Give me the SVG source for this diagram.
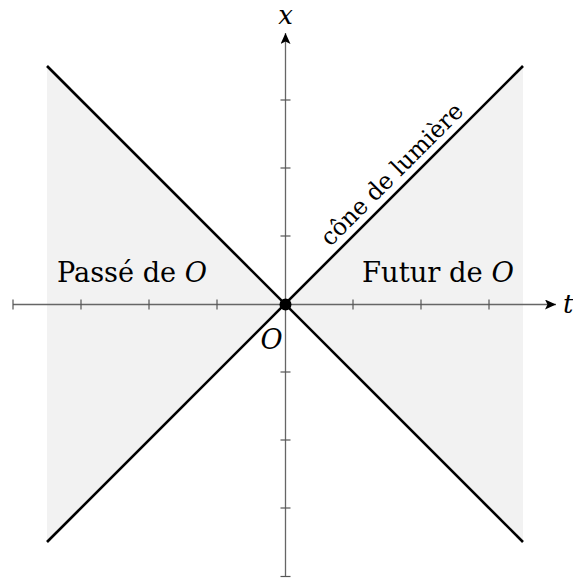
<svg xmlns="http://www.w3.org/2000/svg" width="573" height="578" viewBox="0 0 573 578">
<style>
.axis{stroke:#666;stroke-width:1.3;fill:none}
.tick{stroke:#555;stroke-width:1.2}
.cone{stroke:#000;stroke-width:2.6;fill:none}
.shade{fill:#f2f2f2;stroke:none}
.txt{font-family:"DejaVu Serif","Liberation Serif",serif;fill:#000}
.it{font-style:italic}
</style>
<defs>
<marker id="arr" markerWidth="12" markerHeight="10" refX="11" refY="5" orient="auto" markerUnits="userSpaceOnUse">
<path d="M0,0 L11,5 L0,10 L2.5,5 Z" fill="#000"/>
</marker>
</defs>
<g id="regions">
<polygon class="shade" points="47,66 285,304 47,542"/>
<polygon class="shade" points="523,66 285,304 523,542"/>
</g>
<g id="connectors">
<line class="axis" x1="13" y1="304.5" x2="556" y2="304.5" marker-end="url(#arr)"/>
<line class="axis" x1="285.5" y1="577" x2="285.5" y2="33" marker-end="url(#arr)"/>
<g class="tick">
<line x1="13" y1="299.5" x2="13" y2="309.5"/>
<line x1="81" y1="299.5" x2="81" y2="309.5"/>
<line x1="149" y1="299.5" x2="149" y2="309.5"/>
<line x1="217" y1="299.5" x2="217" y2="309.5"/>
<line x1="353" y1="299.5" x2="353" y2="309.5"/>
<line x1="421" y1="299.5" x2="421" y2="309.5"/>
<line x1="489" y1="299.5" x2="489" y2="309.5"/>
<line x1="280.5" y1="100" x2="290.5" y2="100"/>
<line x1="280.5" y1="168" x2="290.5" y2="168"/>
<line x1="280.5" y1="236" x2="290.5" y2="236"/>
<line x1="280.5" y1="372" x2="290.5" y2="372"/>
<line x1="280.5" y1="440" x2="290.5" y2="440"/>
<line x1="280.5" y1="508" x2="290.5" y2="508"/>
<line x1="280.5" y1="576.5" x2="290.5" y2="576.5"/>
</g>
<line class="cone" x1="47" y1="66" x2="523" y2="542"/>
<line class="cone" x1="47" y1="542" x2="523" y2="66"/>
</g>
<g id="origin">
<circle cx="285.5" cy="304.5" r="6" fill="#000"/>
<text class="txt it" x="271.5" y="349" font-size="27" text-anchor="middle">O</text>
</g>
<g id="labels">
<text class="txt it" x="285.5" y="24" font-size="26" text-anchor="middle">x</text>
<text class="txt it" x="563" y="313" font-size="26">t</text>
<text class="txt" x="57" y="282" font-size="27" textLength="150" lengthAdjust="spacingAndGlyphs">Passé de <tspan class="it">O</tspan></text>
<text class="txt" x="362" y="282" font-size="27" textLength="152" lengthAdjust="spacingAndGlyphs">Futur de <tspan class="it">O</tspan></text>
<text class="txt" transform="translate(397.5,180) rotate(-45)" font-size="24" text-anchor="middle" textLength="190" lengthAdjust="spacingAndGlyphs">cône de lumière</text>
</g>
</svg>
